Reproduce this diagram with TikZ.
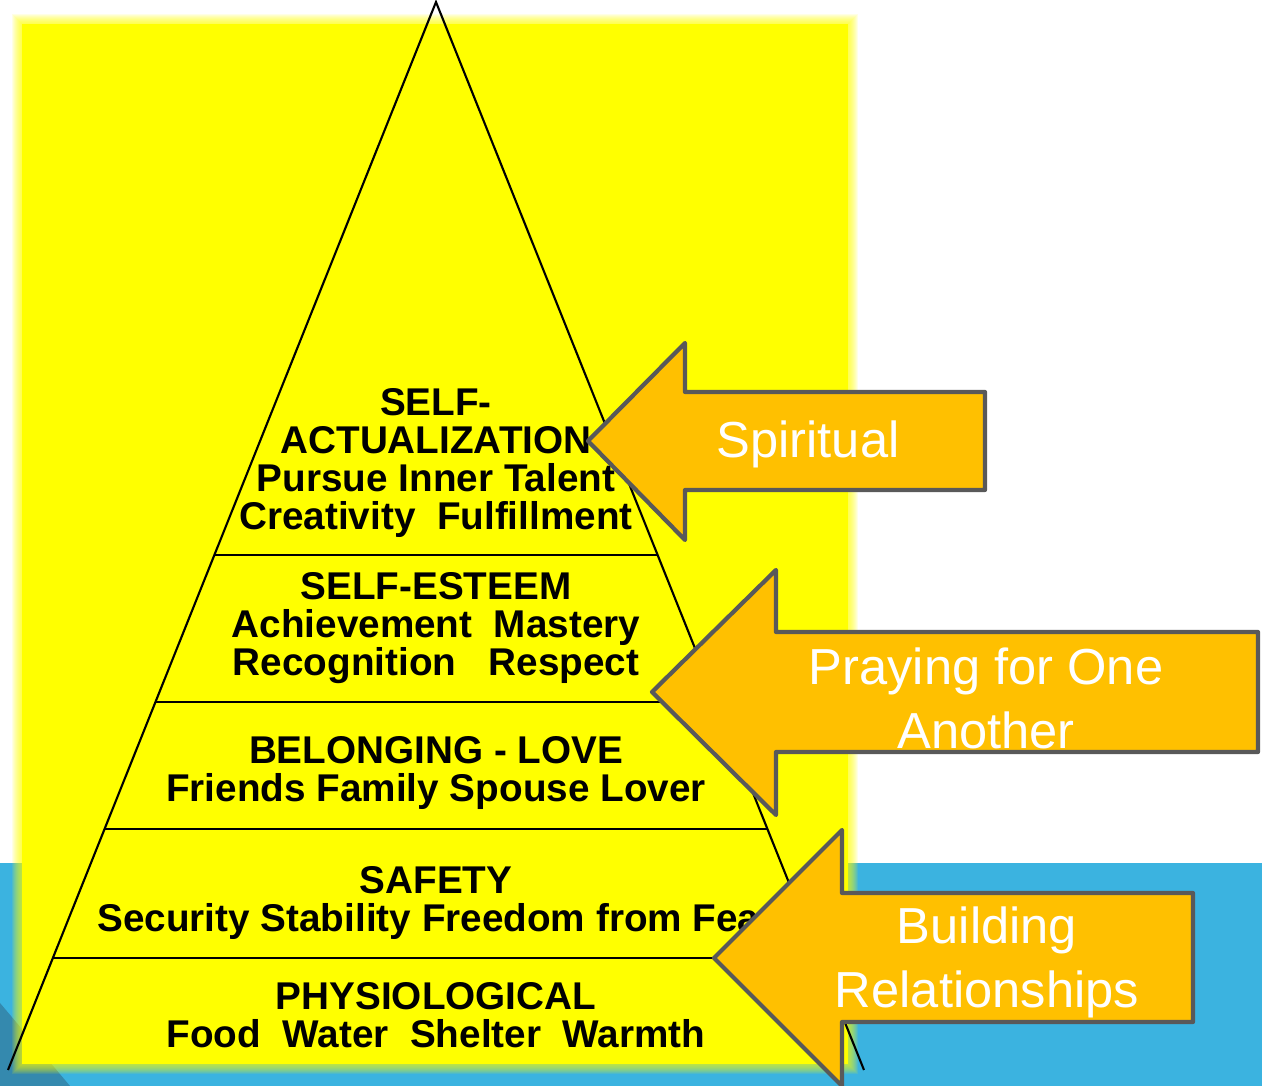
\documentclass[tikz,border=0pt]{standalone}
\usepackage{fontspec}
\setmainfont{Liberation Sans}
\usetikzlibrary{calc}

\definecolor{band}{HTML}{3BB3E0}
\definecolor{bandshade}{HTML}{3489AE}
\definecolor{pyr}{HTML}{FFFF00}
\definecolor{arrfill}{HTML}{FFC000}
\definecolor{arrline}{HTML}{595959}

\begin{document}
\begin{tikzpicture}[x=0.01cm, y=-0.01cm,
		tier/.style={align=center, inner sep=0pt, font=\fontsize{11}{10.8}\selectfont\bfseries},
		side/.style={line width=0.6pt},
		divider/.style={line width=0.8pt},
		arrowbox/.style={fill=arrfill, draw=arrline, line width=1.2pt, line join=round},
		arrowtext/.style={align=center, inner sep=0pt, text=white, font=\fontsize{14.4}{18.2}\selectfont}]
		\useasboundingbox (0,0) rectangle (1262,1086);
		\fill[white] (0,0) rectangle (1262,1086);
		\fill[band] (0,863) rectangle (1262,1086);
		\fill[bandshade] (0,1003) -- (70,1086) -- (0,1086) -- cycle;
		% yellow panel with soft edges
		\foreach \b in {1,...,10}
			\fill[pyr, opacity=0.1] ({22-\b},{24-\b}) rectangle ({848+\b},{1064+\b});
		\fill[pyr] (22,24) rectangle (848,1064);
		% pyramid
		\coordinate (apex) at (436,2);
		\coordinate (bl) at (8,1070);
		\coordinate (br) at (864,1070);
		\draw[side] (bl) -- (apex) -- (br);
		\foreach \t in {0.5178,0.6554,0.7743,0.8951}
			\draw[divider] ($(apex)!\t!(bl)$) -- ($(apex)!\t!(br)$);
		\node[tier] (selfact) at (436,463) {SELF-\\ACTUALIZATION\\Pursue Inner Talent\\Creativity~~Fulfillment};
		\node[tier] (esteem) at (436,628) {SELF-ESTEEM\\Achievement~~Mastery\\Recognition~~~Respect};
		\node[tier] (love) at (436,773) {BELONGING - LOVE\\Friends Family Spouse Lover};
		\node[tier] (safety) at (436,903) {SAFETY\\Security Stability Freedom from Fear};
		\node[tier] (physio) at (436,1015) {PHYSIOLOGICAL\\Food~~Water~~Shelter~~Warmth};
		% arrows
		\coordinate (sptip) at (588,441);
		\draw[arrowbox] (sptip) -- (685,343) -- (685,392) -- (985,392) -- (985,490) -- (685,490) -- (685,540) -- cycle;
		\node[arrowtext] (spiritual) at (808,444) {Spiritual};
		\coordinate (prtip) at (652,692);
		\draw[arrowbox] (prtip) -- (776,570) -- (776,632) -- (1258,632) -- (1258,752) -- (776,752) -- (776,815) -- cycle;
		\node[arrowtext] (praying) at (986,698) {Praying for One\\Another};
		\coordinate (bdtip) at (714,958);
		\draw[arrowbox] (bdtip) -- (842,830) -- (842,893) -- (1193,893) -- (1193,1022) -- (842,1022) -- (842,1086) -- cycle;
		\node[arrowtext] (building) at (987,962) {Building\\Relationships};
	\end{tikzpicture}
\end{document}
